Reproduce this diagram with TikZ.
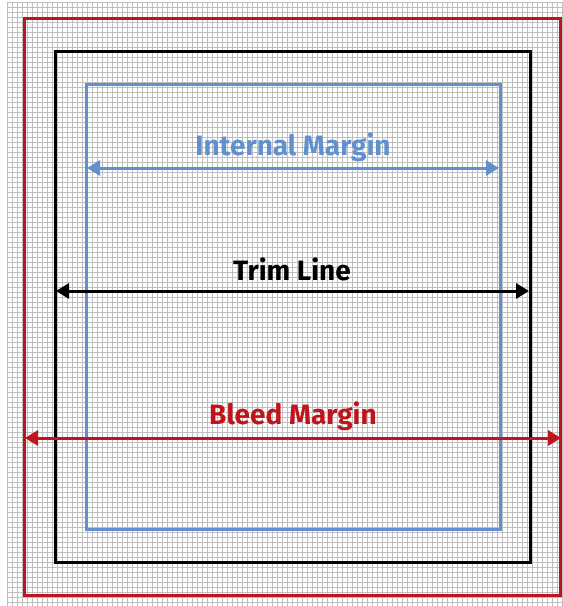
\documentclass[tikz,border=0pt]{standalone}
\usepackage{fontspec}
\setmainfont{Fira Sans}
\usetikzlibrary{arrows.meta}
\definecolor{gridc}{RGB}{190,190,190}
\definecolor{bleedc}{RGB}{192,20,28}
\definecolor{innerc}{RGB}{96,144,206}
\tikzset{
  gridline/.style={gridc, line width=0.7pt},
  frame/.style={line width=3pt},
  dim/.style={line width=3pt, {Triangle[length=13pt,width=15pt]}-{Triangle[length=13pt,width=15pt]}},
  lab/.style={font=\bfseries\fontsize{28}{32}\selectfont, inner sep=0pt},
}
\begin{document}
\begin{tikzpicture}[x=1pt,y=-1pt]
\useasboundingbox (0,0) rectangle (563,606);
\fill[white] (0,0) rectangle (563,606);
\foreach \x in {7,12,...,562} \draw[gridline] (\x,2) -- (\x,606);
\foreach \y in {2,7,...,605} \draw[gridline] (7,\y) -- (563,\y);
% frames
\draw[frame, bleedc] (24,18) rectangle (560,595);
\draw[frame, black] (55,51) rectangle (530,562);
\draw[frame, innerc] (86,84) rectangle (500,529);
% arrow end points
\coordinate (iL) at (87,168);
\coordinate (iR) at (499,168);
\coordinate (tL) at (56,291);
\coordinate (tR) at (529,291);
\coordinate (bL) at (25,438);
\coordinate (bR) at (561,438);
\draw[dim, innerc] (iL) -- (iR);
\draw[dim, black] (tL) -- (tR);
\draw[dim, bleedc] (bL) -- (bR);
\node[lab, innerc] (il) at (293,147) {Internal Margin};
\node[lab, black] (tl) at (292,269) {Trim Line};
\node[lab, bleedc] (bl) at (293,416) {Bleed Margin};
\end{tikzpicture}
\end{document}
